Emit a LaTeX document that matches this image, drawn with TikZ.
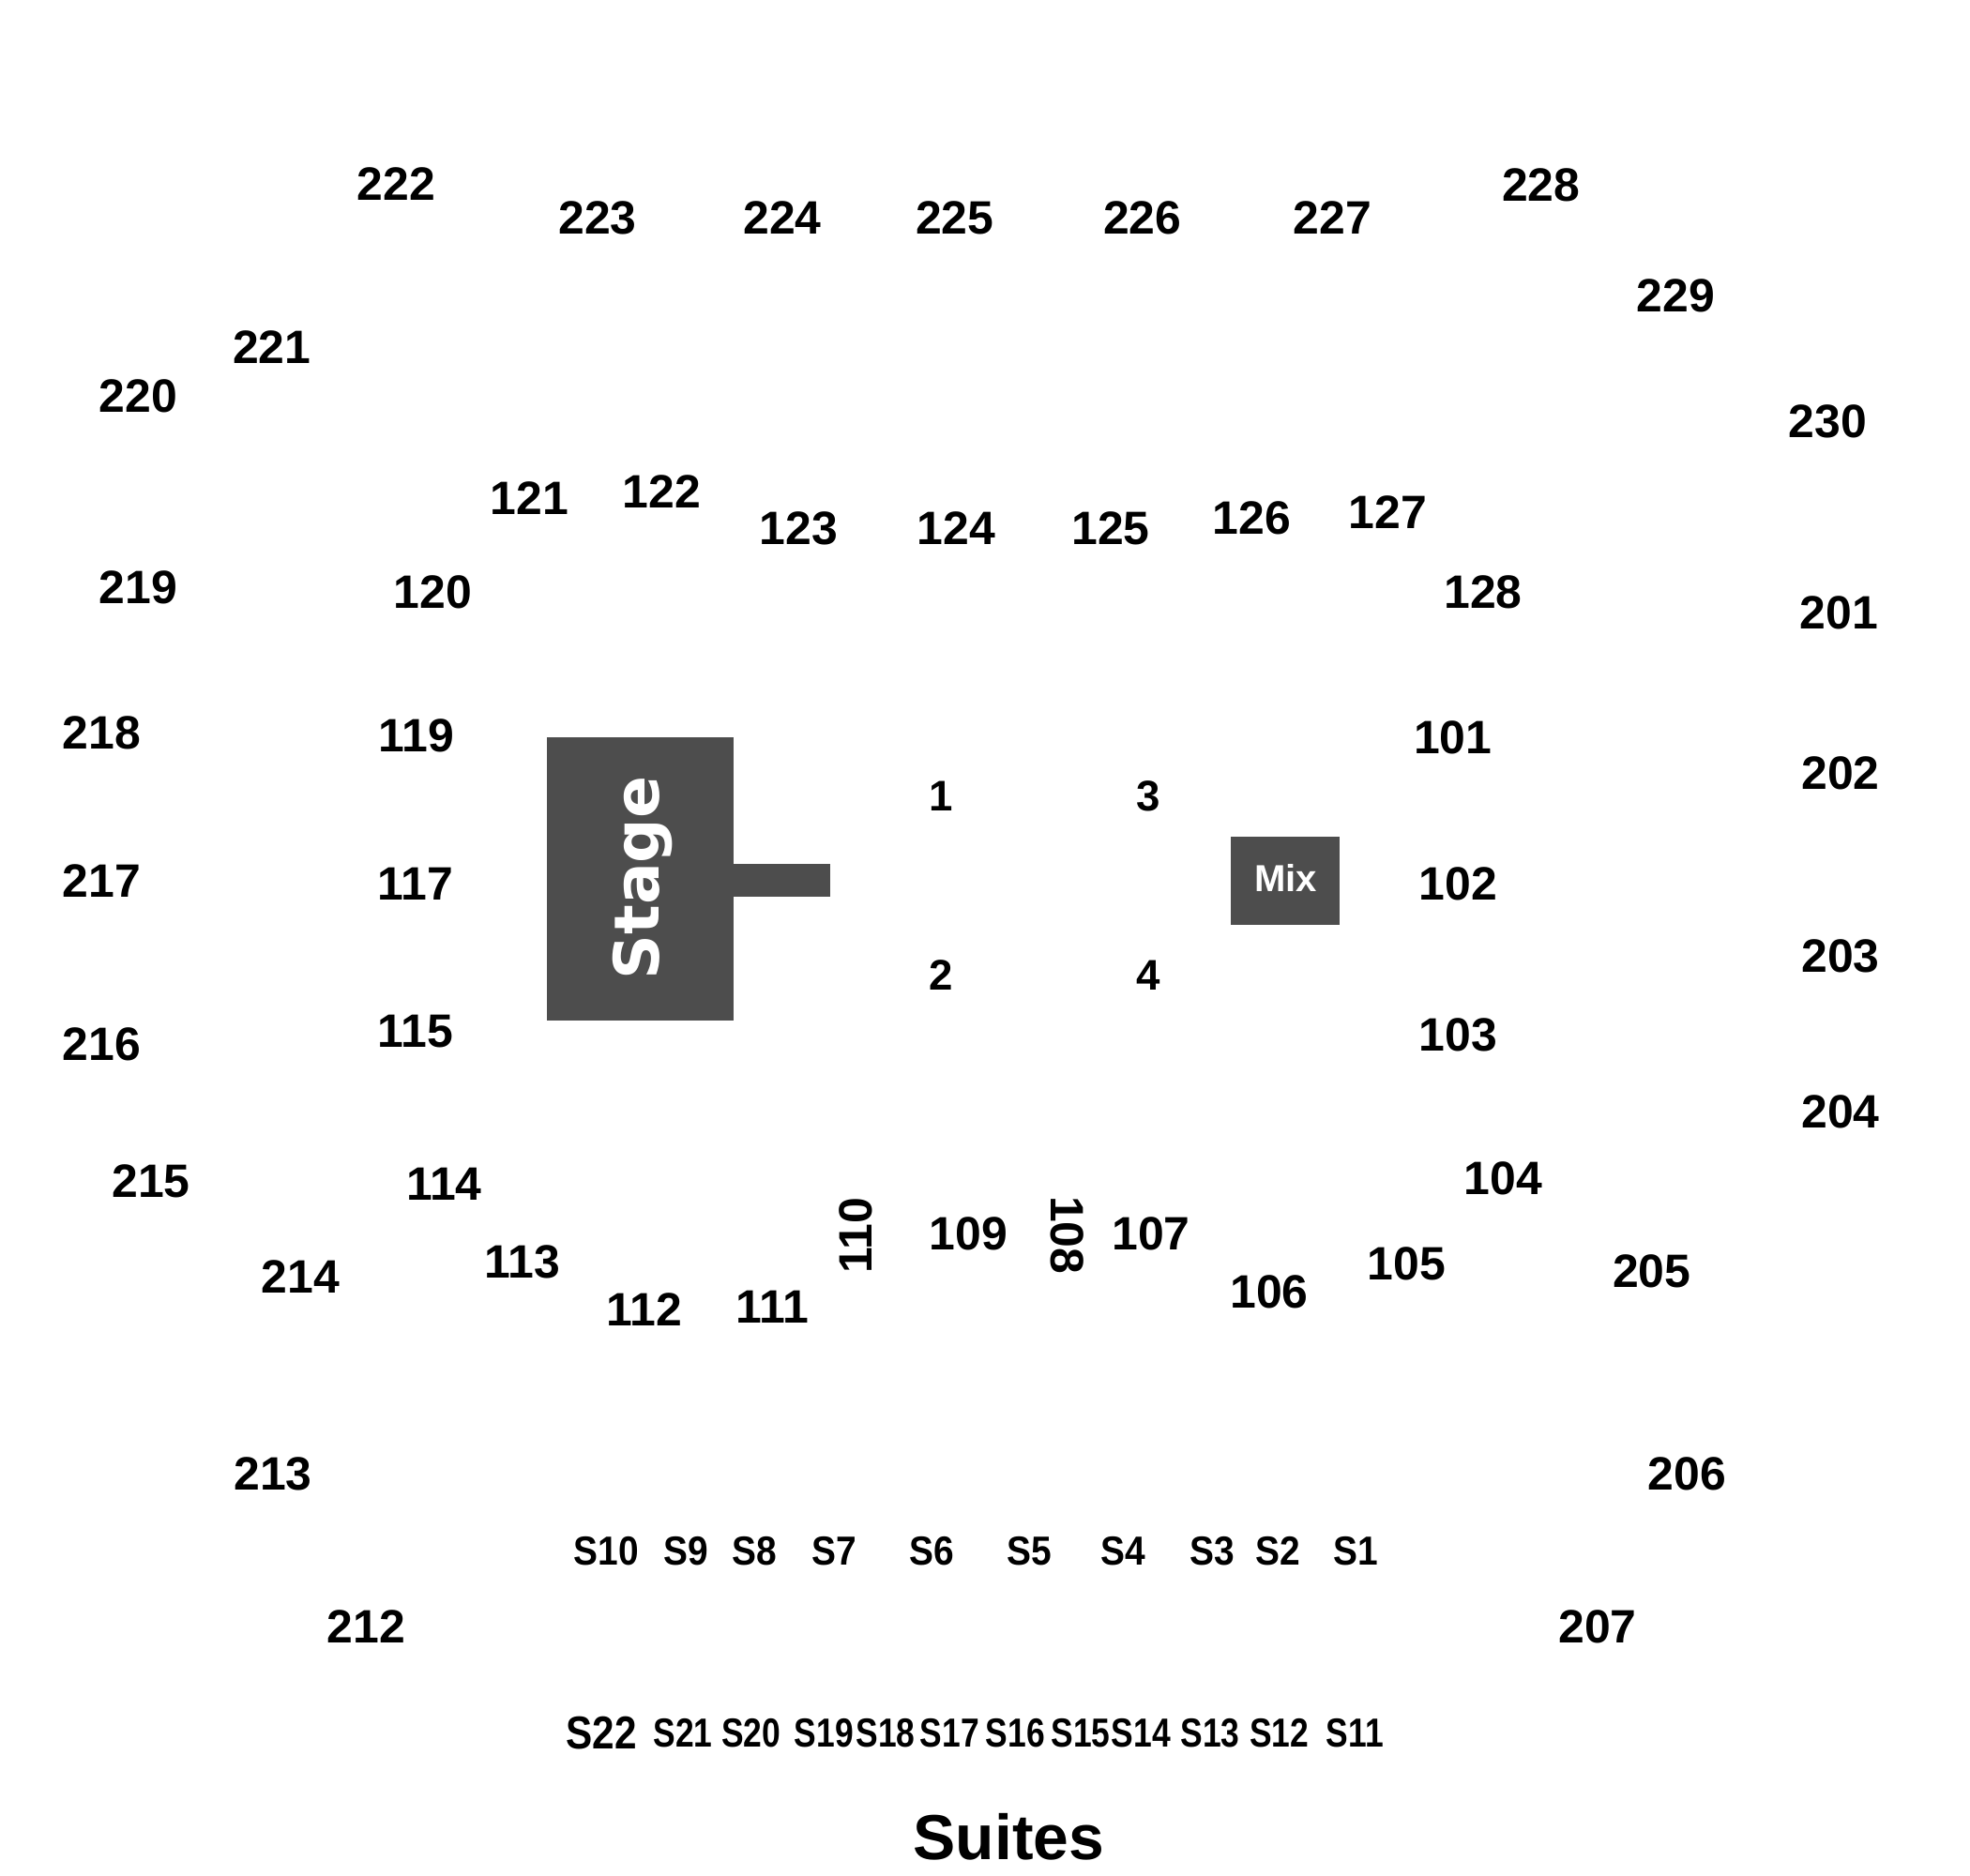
\documentclass[tikz,border=0pt]{standalone}
\usepackage{fontspec}
\setmainfont{Liberation Sans}
\newfontfamily\stagefont{DejaVu Sans}
\usetikzlibrary{positioning}
\definecolor{stagegray}{HTML}{4D4D4D}
\tikzstyle{sec}=[font=\fontsize{14.2}{16}\selectfont\bfseries,inner sep=0pt]
\tikzstyle{flr}=[font=\fontsize{13}{15}\selectfont\bfseries,inner sep=0pt]
\tikzstyle{ste}=[font=\fontsize{12.3}{14}\selectfont\bfseries,inner sep=0pt]
\tikzstyle{blk}=[fill=stagegray,draw=none]
\newcommand{\sect}[3]{\node[sec] (s#1) at (#2,#3) {#1};}
\newcommand{\suite}[3]{\node[ste] (#1) at (#2,#3) {\scalebox{0.9}[1]{#1}};}
\newcommand{\suitelow}[3]{\node[ste] (#1) at (#2,#3) {\scalebox{0.82}[1]{#1}};}
\begin{document}
\begin{tikzpicture}[x=0.01341cm,y=-0.01341cm]
  \useasboundingbox[fill=white] (0,0) rectangle (1566,1491);
  % stage and mix
  \path[blk] (435,586) rectangle (583,811);
  \path[blk] (583,687) rectangle (660,713);
  \path[blk] (978,665) rectangle (1065,735);
  \node[text=white,font=\stagefont\fontsize{18.9}{20}\selectfont\bfseries,rotate=90,inner sep=0pt] (stage) at (511,698) {Stage};
  \node[text=white,font=\fontsize{11.4}{13}\selectfont\bfseries,inner sep=0pt] (mix) at (1022,698) {Mix};
  % floor
  \node[flr] (f1) at (748,633) {1};
  \node[flr] (f3) at (913,633) {3};
  \node[flr] (f2) at (748,775) {2};
  \node[flr] (f4) at (913,775) {4};
  % upper level
  \sect{222}{315}{146} \sect{223}{475}{173} \sect{224}{622}{173}
  \sect{225}{759}{173} \sect{226}{908}{173} \sect{227}{1059}{173}
  \sect{228}{1225}{147} \sect{229}{1332}{235} \sect{230}{1453}{335}
  \sect{221}{216}{276} \sect{220}{110}{315} \sect{219}{110}{467}
  \sect{218}{81}{583} \sect{217}{81}{700} \sect{216}{81}{830}
  \sect{215}{120}{939} \sect{214}{239}{1015} \sect{213}{217}{1172}
  \sect{212}{291}{1293}
  \sect{201}{1462}{487} \sect{202}{1463}{615} \sect{203}{1463}{760}
  \sect{204}{1463}{884} \sect{205}{1313}{1011} \sect{206}{1341}{1172}
  \sect{207}{1270}{1293}
  % lower level
  \sect{121}{421}{396} \sect{122}{526}{391} \sect{123}{635}{420}
  \sect{124}{760}{420} \sect{125}{883}{420} \sect{126}{995}{412}
  \sect{127}{1103}{407} \sect{128}{1179}{471}
  \sect{120}{344}{471} \sect{119}{331}{585} \sect{117}{330}{703}
  \sect{115}{330}{820} \sect{114}{353}{941} \sect{113}{415}{1003}
  \sect{112}{512}{1041} \sect{111}{614}{1039}
  \node[sec,rotate=90] (s110) at (680,982) {110};
  \sect{109}{770}{981}
  \node[sec,rotate=-90] (s108) at (848,982) {108};
  \sect{107}{915}{981} \sect{106}{1009}{1027} \sect{105}{1118}{1005}
  \sect{104}{1195}{937} \sect{103}{1159}{823} \sect{102}{1159}{703}
  \sect{101}{1155}{586}
  % suites
  \suite{S10}{482}{1233} \suite{S9}{545}{1233} \suite{S8}{600}{1233}
  \suite{S7}{663}{1233} \suite{S6}{741}{1233} \suite{S5}{818}{1233}
  \suite{S4}{893}{1233} \suite{S3}{964}{1233} \suite{S2}{1016}{1233}
  \suite{S1}{1078}{1233}
  \node[ste,font=\fontsize{14}{16}\selectfont\bfseries] (S22) at (478,1378) {\scalebox{0.86}[1]{S22}};
  \suitelow{S21}{543}{1378} \suitelow{S20}{597}{1378} \suitelow{S19}{655}{1378}
  \suitelow{S18}{704}{1378} \suitelow{S17}{755}{1378} \suitelow{S16}{807}{1378}
  \suitelow{S15}{859}{1378} \suitelow{S14}{907}{1378} \suitelow{S13}{962}{1378}
  \suitelow{S12}{1017}{1378} \suitelow{S11}{1077}{1378}
  \node[font=\fontsize{19.3}{22}\selectfont\bfseries,inner sep=0pt] (suites) at (802,1460) {Suites};
\end{tikzpicture}
\end{document}
